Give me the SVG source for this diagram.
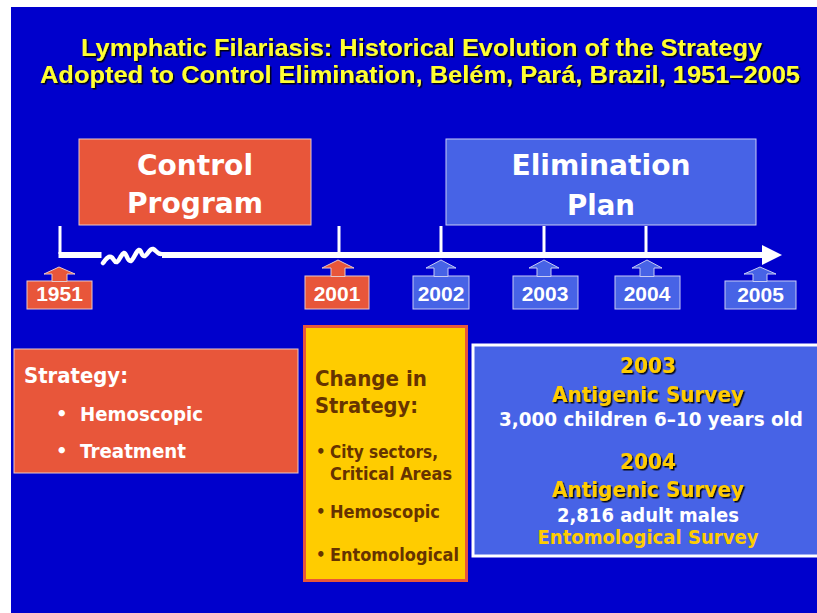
<svg xmlns="http://www.w3.org/2000/svg" width="817" height="613" viewBox="0 0 817 613">
<defs>
<style>
.bg{fill:#0000CC}
.or{fill:#E8563A;stroke:#E8C8C8;stroke-width:1}
.lb{fill:#4763E6;stroke:#C8CCF4;stroke-width:1}
.title{font-family:"Liberation Sans",Arial,sans-serif;font-weight:bold;font-size:24px;fill:#FFFF33;text-anchor:middle}
.big{font-family:"DejaVu Sans",Verdana,sans-serif;font-weight:bold;font-size:28px;fill:#FFFFFF;text-anchor:middle}
.yr{font-family:"Liberation Sans",Arial,sans-serif;font-weight:bold;font-size:21px;fill:#FFFFFF;text-anchor:middle}
.w{font-family:"DejaVu Sans",Verdana,sans-serif;font-weight:bold;fill:#FFFFFF}
.br{font-family:"DejaVu Sans",Verdana,sans-serif;font-weight:bold;fill:#663300}
.yl{font-family:"DejaVu Sans",Verdana,sans-serif;font-weight:bold;fill:#FFCC00}
.mid{text-anchor:middle}
.tick{stroke:#FFFFFF;stroke-width:3}
</style>
<filter id="sh" x="-5%" y="-20%" width="110%" height="140%">
<feDropShadow dx="1.5" dy="1.5" stdDeviation="0.3" flood-color="#000000" flood-opacity="0.9"/>
</filter>
</defs>

<rect x="0" y="0" width="817" height="613" fill="#FFFFFF"/>
<rect class="bg" x="11" y="7" width="806" height="606"/>

<g id="title" filter="url(#sh)">
<text class="title" x="421.5" y="56" textLength="681" lengthAdjust="spacingAndGlyphs">Lymphatic Filariasis:  Historical Evolution of the Strategy</text>
<text class="title" x="420" y="83" textLength="760" lengthAdjust="spacingAndGlyphs">Adopted to Control Elimination, Belém, Pará, Brazil, 1951–2005</text>
</g>

<g id="control-program">
<rect class="or" x="79" y="139" width="232" height="86"/>
<text class="big" x="195" y="175" textLength="116" lengthAdjust="spacingAndGlyphs">Control</text>
<text class="big" x="195" y="213" textLength="136" lengthAdjust="spacingAndGlyphs">Program</text>
</g>

<g id="elimination-plan">
<rect class="lb" x="446" y="139" width="310" height="86"/>
<text class="big" x="601" y="175" textLength="179" lengthAdjust="spacingAndGlyphs">Elimination</text>
<text class="big" x="601" y="215" textLength="68" lengthAdjust="spacingAndGlyphs">Plan</text>
</g>

<g id="connectors">
<line class="tick" x1="60" y1="226" x2="60" y2="254"/>
<line class="tick" x1="339" y1="226" x2="339" y2="254"/>
<line class="tick" x1="441" y1="226" x2="441" y2="254"/>
<line class="tick" x1="544" y1="226" x2="544" y2="254"/>
<line class="tick" x1="646" y1="226" x2="646" y2="254"/>
<rect x="58.5" y="252" width="43" height="6" fill="#FFFFFF"/>
<path d="M103,263 C106,259 108,256 111,257 C114,258 114,263 117,262 C120,260 121,254 124,253 C127,253 127,262 131,261 C134,259 136,251 139,250 C142,250 141,257 145,256 C148,254 150,248 153,249 C156,250 157,254 161,254" fill="none" stroke="#FFFFFF" stroke-width="4.5" stroke-linecap="round" stroke-linejoin="round"/>
<rect x="162" y="252" width="601" height="6" fill="#FFFFFF"/>
<polygon points="762,245 782,255 762,265" fill="#FFFFFF"/>
</g>

<g id="y1951">
<rect class="or" x="27" y="281" width="65" height="28"/>
<polygon class="or" points="59,267 75,274 67,274 67,281.5 52,281.5 52,274 44,274"/>
<text class="yr" x="59.5" y="301">1951</text>
</g>
<g id="y2001">
<rect class="or" x="305" y="276" width="64" height="33"/>
<polygon class="or" points="338,260 354,268 345,268 345,276.5 331,276.5 331,268 322,268"/>
<text class="yr" x="337" y="301">2001</text>
</g>
<g id="y2002">
<rect class="lb" x="413" y="276" width="56" height="33"/>
<polygon class="lb" points="441,260 456,268 448,268 448,276.5 434,276.5 434,268 426,268"/>
<text class="yr" x="441" y="301">2002</text>
</g>
<g id="y2003">
<rect class="lb" x="513" y="276" width="65" height="33"/>
<polygon class="lb" points="544,260 559,268 551,268 551,276.5 537,276.5 537,268 529,268"/>
<text class="yr" x="545" y="301">2003</text>
</g>
<g id="y2004">
<rect class="lb" x="615" y="276" width="65" height="33"/>
<polygon class="lb" points="647,260 662,268 654,268 654,276.5 640,276.5 640,268 632,268"/>
<text class="yr" x="647" y="301">2004</text>
</g>
<g id="y2005">
<rect class="lb" x="725" y="281" width="71" height="28"/>
<polygon class="lb" points="760,267 776,274 767,274 767,281.5 753,281.5 753,274 744,274"/>
<text class="yr" x="760.5" y="302">2005</text>
</g>

<g id="strategy">
<rect class="or" x="14" y="349" width="284" height="124"/>
<text class="w" x="24" y="383" font-size="21" textLength="104" lengthAdjust="spacingAndGlyphs">Strategy:</text>
<text class="w" x="56" y="420" font-size="18">•</text>
<text class="w" x="80" y="421" font-size="20" textLength="123" lengthAdjust="spacingAndGlyphs">Hemoscopic</text>
<text class="w" x="56" y="457" font-size="18">•</text>
<text class="w" x="80" y="458" font-size="20" textLength="106" lengthAdjust="spacingAndGlyphs">Treatment</text>
</g>

<g id="change-in-strategy">
<rect x="304.5" y="326.5" width="162" height="254" fill="#FFCC00" stroke="#E8563A" stroke-width="3"/>
<text class="br" x="315" y="386" font-size="21" textLength="112" lengthAdjust="spacingAndGlyphs">Change in</text>
<text class="br" x="315" y="413" font-size="21" textLength="103" lengthAdjust="spacingAndGlyphs">Strategy:</text>
<text class="br" x="316" y="457" font-size="15">•</text>
<text class="br" x="330" y="458" font-size="17" textLength="108" lengthAdjust="spacingAndGlyphs">City sectors,</text>
<text class="br" x="330" y="480" font-size="17" textLength="122" lengthAdjust="spacingAndGlyphs">Critical Areas</text>
<text class="br" x="316" y="517" font-size="15">•</text>
<text class="br" x="330" y="518" font-size="17" textLength="110" lengthAdjust="spacingAndGlyphs">Hemoscopic</text>
<text class="br" x="316" y="560" font-size="15">•</text>
<text class="br" x="330" y="561" font-size="17" textLength="129" lengthAdjust="spacingAndGlyphs">Entomological</text>
</g>

<g id="surveys">
<rect x="473" y="345" width="360" height="211" fill="#4763E6" stroke="#FFFFFF" stroke-width="3"/>
<g filter="url(#sh)">
<text class="yl mid" x="648" y="373" font-size="21" textLength="56" lengthAdjust="spacingAndGlyphs">2003</text>
<text class="yl mid" x="648" y="402" font-size="21" textLength="192" lengthAdjust="spacingAndGlyphs">Antigenic Survey</text>
<text class="yl mid" x="648" y="469" font-size="21" textLength="56" lengthAdjust="spacingAndGlyphs">2004</text>
<text class="yl mid" x="648" y="497" font-size="21" textLength="192" lengthAdjust="spacingAndGlyphs">Antigenic Survey</text>
</g>
<text class="w mid" x="651" y="426" font-size="19" textLength="304" lengthAdjust="spacingAndGlyphs">3,000 children 6–10 years old</text>
<text class="w mid" x="648" y="522" font-size="19" textLength="182" lengthAdjust="spacingAndGlyphs">2,816 adult males</text>
<text class="yl mid" x="648" y="544" font-size="19" textLength="221" lengthAdjust="spacingAndGlyphs">Entomological Survey</text>
</g>
</svg>
